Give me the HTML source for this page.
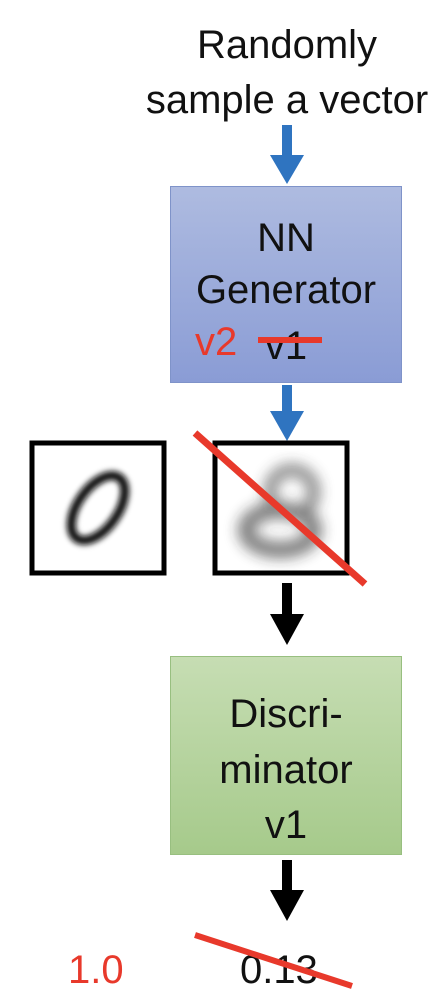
<!DOCTYPE html>
<html><head><meta charset="utf-8">
<style>
html,body{margin:0;padding:0;background:#fff;}
body{width:446px;height:1006px;position:relative;overflow:hidden;font-family:"Liberation Sans",sans-serif;}
.t{position:absolute;white-space:nowrap;text-align:center;font-size:40px;color:#111;line-height:1;}
.box{position:absolute;box-sizing:border-box;}
</style></head><body>
<div class="t" style="left:137px;top:25px;width:300px;">Randomly</div>
<div class="t" style="left:117px;top:80px;width:340px;">sample a vector</div>

<div class="box" style="left:170px;top:186px;width:232px;height:197px;background:linear-gradient(#aebbe0,#8a9cd5);border:1px solid #7f93c9;"></div>
<div class="t" style="left:170px;top:218px;width:232px;">NN</div>
<div class="t" style="left:170px;top:270px;width:232px;">Generator</div>
<div class="t" style="left:170px;top:326px;width:232px;">v1</div>
<div class="t" style="left:195px;top:322px;color:#e8392b;">v2</div>

<div class="box" style="left:170px;top:656px;width:232px;height:199px;background:linear-gradient(#c6ddb3,#a6ca8b);border:1px solid #98bf80;"></div>
<div class="t" style="left:170px;top:694px;width:232px;">Discri-</div>
<div class="t" style="left:170px;top:750px;width:232px;">minator</div>
<div class="t" style="left:170px;top:805px;width:232px;">v1</div>

<div class="t" style="left:68px;top:950px;color:#e8392b;">1.0</div>
<div class="t" style="left:240px;top:950px;">0.13</div>

<svg width="446" height="1006" style="position:absolute;left:0;top:0;">
<defs>
<filter id="b1" x="-50%" y="-50%" width="200%" height="200%"><feGaussianBlur stdDeviation="3"/></filter>
<filter id="b2" x="-50%" y="-50%" width="200%" height="200%"><feGaussianBlur stdDeviation="7"/></filter>
</defs>
<g fill="#2f74c0"><rect x="282" y="125" width="10" height="32"/><polygon points="270,155 304,155 287,184"/></g>
<g fill="#2f74c0"><rect x="282" y="385" width="10" height="28"/><polygon points="270,411 304,411 287,441"/></g>
<g fill="#000"><rect x="282" y="583" width="10" height="33"/><polygon points="270,614 304,614 287,645"/></g>
<g fill="#000"><rect x="282" y="860" width="10" height="32"/><polygon points="270,890 304,890 287,921"/></g>

<rect x="32" y="443" width="132" height="130" fill="#fff" stroke="#000" stroke-width="5"/>
<ellipse cx="98" cy="508" rx="20" ry="37" transform="rotate(35 98 508)" fill="none" stroke="#111" stroke-width="9" filter="url(#b1)"/>
<rect x="215" y="443" width="132" height="130" fill="#fff" stroke="#000" stroke-width="5"/>
<g filter="url(#b2)" opacity="0.6">
<ellipse cx="292" cy="492" rx="22" ry="22" fill="none" stroke="#333" stroke-width="12"/>
<ellipse cx="280" cy="530" rx="34" ry="20" fill="none" stroke="#222" stroke-width="16"/>
</g>

<line x1="258" y1="340" x2="322" y2="340" stroke="#e8392b" stroke-width="6"/>
<line x1="195" y1="433" x2="365" y2="584" stroke="#e8392b" stroke-width="7"/>
<line x1="195" y1="935" x2="352" y2="986" stroke="#e8392b" stroke-width="6"/>
</svg>
</body></html>
